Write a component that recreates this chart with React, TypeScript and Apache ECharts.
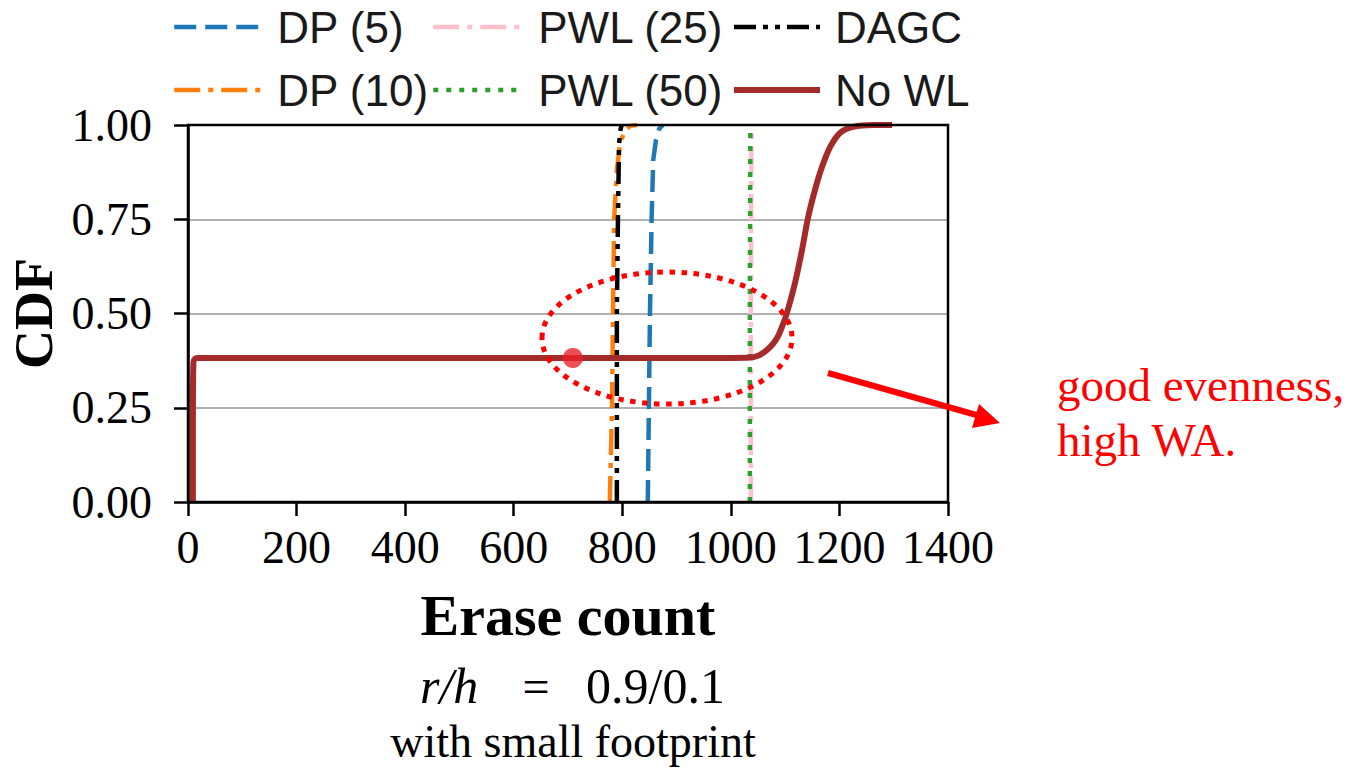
import React, { useEffect, useRef } from 'react';
import * as echarts from 'echarts';

// ---------- data ----------
const xMin = 0;
const xMax = 1400;
const xStep = 200;
const yMin = 0;
const yMax = 1;
const yStep = 0.25;

const seriesNames = ['DP (5)', 'DP (10)', 'PWL (25)', 'PWL (50)', 'DAGC', 'No WL'];

const dp5X = [847, 849, 851, 854, 857, 862, 868, 875];
const dp5Y = [0, 0.25, 0.5, 0.75, 0.907, 0.96, 0.99, 1];

const dp10X = [777, 781, 783, 785, 790, 796, 805, 815, 827];
const dp10Y = [0, 0.25, 0.5, 0.75, 0.88, 0.952, 0.987, 0.998, 1];

const pwl25X = [1037, 1037, 1038];
const pwl25Y = [0, 0.5, 1];

const pwl50X = [1035, 1035, 1036];
const pwl50Y = [0, 0.5, 1];

const dagcX = [790, 790, 790, 792, 794, 797, 799];
const dagcY = [0, 0.25, 0.5, 0.75, 0.95, 0.99, 1];

const noWlX = [9, 9, 10, 13, 20, 400, 800, 1000, 1035, 1050, 1059, 1070, 1078, 1087, 1094, 1103, 1118, 1131, 1142, 1155, 1168, 1183, 1201, 1225, 1262, 1297];
const noWlY = [0, 0.2, 0.37, 0.38, 0.382, 0.382, 0.382, 0.382, 0.383, 0.388, 0.395, 0.408, 0.42, 0.44, 0.464, 0.5, 0.58, 0.668, 0.753, 0.828, 0.889, 0.942, 0.979, 0.995, 1.0, 1.0];

const highlightPoint = [709, 0.382];

const annotationLines = ['good evenness,', 'high WA.'];
const captionMath = 'r/h';
const captionEq = '=';
const captionValue = '0.9/0.1';
const captionText = 'with small footprint';

// ---------- helpers ----------
const pairs = (xs: number[], ys: number[]) => xs.map((x, i) => [x, ys[i]]);
const SERIF = '"Liberation Serif", "Times New Roman", serif';
const SANS = '"Liberation Sans", Arial, sans-serif';

const colors = ['#1f77b4', '#ff7f0e', '#ffc0cb', '#2ca02c', '#000000', '#a52a2a'];
const dashes: any[] = [[22, 9], [26, 8, 5, 8], [26, 8, 5, 8], [5, 8], [22, 7, 5, 7, 5, 7], 'solid'];
const widths = [4.5, 4.5, 4.5, 4.5, 4.5, 6];

const GRID = { left: 188, right: 948, top: 125, bottom: 502 };

export default function App() {
  const ref = useRef<HTMLDivElement>(null);

  useEffect(() => {
    if (!ref.current) return;
    const chart = echarts.init(ref.current, undefined, { renderer: 'svg' });

    const lineSeries = (i: number, xs: number[], ys: number[], z = 2) => ({
      name: seriesNames[i],
      type: 'line',
      data: pairs(xs, ys),
      showSymbol: false,
      symbol: 'none',
      z,
      lineStyle: { color: colors[i], width: widths[i], type: dashes[i], cap: 'butt' },
      itemStyle: { color: colors[i] },
    });

    const legendItem = (i: number) => ({
      name: seriesNames[i],
      itemStyle: { opacity: 0 },
      lineStyle: { color: colors[i], width: widths[i], type: dashes[i], cap: 'butt' },
    });

    const legendBase = {
      orient: 'vertical',
      top: 0,
      itemWidth: 86,
      itemHeight: 40,
      itemGap: 19,
      itemStyle: { opacity: 0 },
      textStyle: { fontFamily: SANS, fontSize: 44, color: '#1a1a1a' },
    };

    chart.setOption({
      animation: false,
      backgroundColor: '#ffffff',
      grid: {
        left: GRID.left,
        right: 1353 - GRID.right,
        top: GRID.top,
        bottom: 773 - GRID.bottom,
        containLabel: false,
        outerBoundsMode: 'none',
      },
      legend: [
        { ...legendBase, left: 167, data: [legendItem(0), legendItem(1)], textStyle: { ...legendBase.textStyle, padding: [0, 0, 0, 12] } },
        { ...legendBase, left: 426, data: [legendItem(2), legendItem(3)], textStyle: { ...legendBase.textStyle, padding: [0, 0, 0, 14] } },
        { ...legendBase, left: 726, data: [legendItem(4), legendItem(5)], textStyle: { ...legendBase.textStyle, padding: [0, 0, 0, 10] } },
      ],
      xAxis: {
        type: 'value',
        min: xMin,
        max: xMax,
        interval: xStep,
        name: 'Erase count',
        nameLocation: 'middle',
        nameGap: 84,
        nameTextStyle: { fontFamily: SERIF, fontWeight: 'bold', fontSize: 58, color: '#000' },
        axisLine: { show: true, lineStyle: { color: '#000', width: 2.5 } },
        axisTick: { show: true, inside: false, length: 14, lineStyle: { color: '#000', width: 2.5 } },
        axisLabel: { fontFamily: SERIF, fontSize: 46, color: '#000', margin: 22, formatter: (v: number) => String(v) },
        splitLine: { show: false },
      },
      yAxis: {
        type: 'value',
        min: yMin,
        max: yMax,
        interval: yStep,
        name: 'CDF',
        nameLocation: 'middle',
        nameGap: 124,
        nameTextStyle: { fontFamily: SERIF, fontWeight: 'bold', fontSize: 54, color: '#000' },
        axisLine: { show: true, lineStyle: { color: '#000', width: 2.5 } },
        axisTick: { show: true, inside: false, length: 14, lineStyle: { color: '#000', width: 2.5 } },
        axisLabel: { fontFamily: SERIF, fontSize: 46, color: '#000', margin: 36, formatter: (v: number) => v.toFixed(2) },
        splitLine: { show: true, lineStyle: { color: '#b0b0b0', width: 2 } },
      },
      series: [
        lineSeries(0, dp5X, dp5Y),
        lineSeries(1, dp10X, dp10Y),
        lineSeries(2, pwl25X, pwl25Y),
        lineSeries(3, pwl50X, pwl50Y),
        lineSeries(4, dagcX, dagcY),
        { ...lineSeries(5, noWlX, noWlY, 3), smooth: 0.25 },
        {
          name: 'highlight',
          type: 'scatter',
          data: [highlightPoint],
          symbolSize: 20,
          z: 5,
          itemStyle: { color: '#e8232a' },
        },
      ],
      graphic: [
        {
          type: 'rect',
          z: 10,
          silent: true,
          shape: { x: GRID.left, y: GRID.top, width: GRID.right - GRID.left, height: GRID.bottom - GRID.top },
          style: { fill: 'none', stroke: '#000', lineWidth: 2.5 },
        },
        {
          type: 'ellipse',
          z: 100,
          shape: { cx: 667, cy: 338, rx: 125, ry: 66 },
          style: { fill: 'none', stroke: '#ff0000', lineWidth: 5, lineDash: [5.5, 6.5] },
        },
        {
          type: 'line',
          z: 100,
          shape: { x1: 828, y1: 373, x2: 980, y2: 416 },
          style: { stroke: '#ff0000', lineWidth: 6 },
        },
        {
          type: 'polygon',
          z: 100,
          shape: { points: [[1000, 423], [972, 428], [979, 404]] },
          style: { fill: '#ff0000' },
        },
        {
          type: 'text',
          z: 100,
          x: 1057,
          y: 385,
          style: { text: annotationLines[0], fontFamily: SERIF, fontSize: 47, fill: '#ff0000', align: 'left', verticalAlign: 'middle' },
        },
        {
          type: 'text',
          z: 100,
          x: 1057,
          y: 440,
          style: { text: annotationLines[1], fontFamily: SERIF, fontSize: 47, fill: '#ff0000', align: 'left', verticalAlign: 'middle' },
        },
        {
          type: 'text',
          z: 100,
          x: 420,
          y: 686,
          style: { text: captionMath, fontFamily: SERIF, fontStyle: 'italic', fontSize: 50, fill: '#000', align: 'left', verticalAlign: 'middle' },
        },
        {
          type: 'text',
          z: 100,
          x: 536,
          y: 686,
          style: { text: captionEq, fontFamily: SERIF, fontSize: 48, fill: '#000', align: 'center', verticalAlign: 'middle' },
        },
        {
          type: 'text',
          z: 100,
          x: 725,
          y: 686,
          style: { text: captionValue, fontFamily: SERIF, fontSize: 50, fill: '#000', align: 'right', verticalAlign: 'middle' },
        },
        {
          type: 'text',
          z: 100,
          x: 573,
          y: 741,
          style: { text: captionText, fontFamily: SERIF, fontSize: 46, fill: '#000', align: 'center', verticalAlign: 'middle' },
        },
      ],
    });

    return () => chart.dispose();
  }, []);

  return <div ref={ref} style={{ position: 'fixed', left: 0, top: 0, width: 1353, height: 773, background: '#fff' }} />;
}
